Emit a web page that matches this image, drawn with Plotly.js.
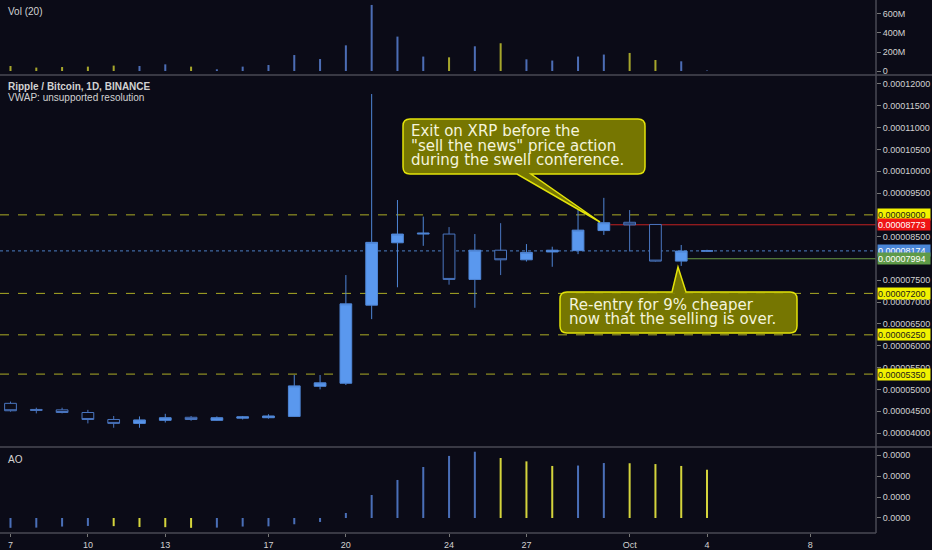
<!DOCTYPE html>
<html><head><meta charset="utf-8">
<script src="https://cdn.plot.ly/plotly-3.0.1.min.js"></script>
<style>html,body{margin:0;padding:0;background:#0b0b17;overflow:hidden}#chart{width:932px;height:550px}</style>
</head><body><div id="chart"></div>
<script>
// ---- data ----
const dates = ['2018-09-07','2018-09-08','2018-09-09','2018-09-10','2018-09-11','2018-09-12','2018-09-13',
  '2018-09-14','2018-09-15','2018-09-16','2018-09-17','2018-09-18','2018-09-19','2018-09-20','2018-09-21',
  '2018-09-22','2018-09-23','2018-09-24','2018-09-25','2018-09-26','2018-09-27','2018-09-28','2018-09-29',
  '2018-09-30','2018-10-01','2018-10-02','2018-10-03','2018-10-04'];
const opens  = [4.68e-5,4.54e-5,4.53e-5,4.47e-5,4.31e-5,4.22e-5,4.29e-5,4.36e-5,4.29e-5,4.34e-5,4.35e-5,4.38e-5,5.07e-5,5.14e-5,6.93e-5,8.36e-5,8.56e-5,8.56e-5,7.52e-5,8.19e-5,7.97e-5,8.15e-5,8.18e-5,8.64e-5,8.83e-5,8.78e-5,7.94e-5,8.17e-5];
const highs  = [4.72e-5,4.58e-5,4.58e-5,4.53e-5,4.39e-5,4.38e-5,4.44e-5,4.39e-5,4.38e-5,4.39e-5,4.43e-5,5.33e-5,5.33e-5,7.62e-5,11.77e-5,9.34e-5,8.96e-5,8.72e-5,8.56e-5,8.81e-5,8.33e-5,8.27e-5,9.11e-5,9.39e-5,9.11e-5,8.79e-5,8.31e-5,8.20e-5];
const lows   = [4.49e-5,4.45e-5,4.45e-5,4.22e-5,4.12e-5,4.12e-5,4.24e-5,4.28e-5,4.28e-5,4.31e-5,4.33e-5,4.37e-5,5.00e-5,5.10e-5,6.61e-5,7.34e-5,8.29e-5,7.40e-5,6.87e-5,7.62e-5,7.93e-5,7.81e-5,8.10e-5,8.54e-5,8.16e-5,7.93e-5,7.83e-5,8.15e-5];
const closes = [4.51e-5,4.52e-5,4.47e-5,4.31e-5,4.22e-5,4.30e-5,4.35e-5,4.31e-5,4.35e-5,4.37e-5,4.39e-5,5.08e-5,5.15e-5,6.96e-5,8.37e-5,8.56e-5,8.58e-5,7.52e-5,8.19e-5,7.97e-5,8.14e-5,8.19e-5,8.65e-5,8.82e-5,8.77e-5,7.94e-5,8.17e-5,8.174e-5];
const volumes = [53e6,36e6,42e6,46e6,57e6,53e6,70e6,46e6,18e6,46e6,63e6,168e6,126e6,270e6,695e6,362e6,152e6,144e6,260e6,292e6,123e6,110e6,152e6,173e6,190e6,116e6,102e6,5e6];
const aoValues = [-0.47e-5,-0.46e-5,-0.41e-5,-0.38e-5,-0.39e-5,-0.43e-5,-0.44e-5,-0.47e-5,-0.46e-5,-0.41e-5,-0.40e-5,-0.30e-5,-0.19e-5,0.24e-5,1.10e-5,1.82e-5,2.44e-5,2.97e-5,3.17e-5,2.87e-5,2.71e-5,2.49e-5,2.51e-5,2.63e-5,2.62e-5,2.58e-5,2.49e-5,2.31e-5];
const tickDates  = ['2018-09-07','2018-09-10','2018-09-13','2018-09-17','2018-09-20','2018-09-24','2018-09-27','2018-10-01','2018-10-04','2018-10-08'];
const tickLabels = ['7','10','13','17','20','24','27','Oct','4','8'];
const priceTicks = [4e-5,4.5e-5,5e-5,5.5e-5,6e-5,6.5e-5,7e-5,7.5e-5,8.5e-5,9.5e-5,10e-5,10.5e-5,11e-5,11.5e-5,12e-5];
const supportLevels = [9.0e-5, 7.2e-5, 6.25e-5, 5.35e-5];
const exitLevel = 8.773e-5, reentryLevel = 7.994e-5, lastPrice = 8.174e-5;
const volTicks = [0, 200e6, 400e6, 600e6], volTickText = ['0','200M','400M','600M'];
const aoTicks = [0, 1e-5, 2e-5, 3e-5];
const exitText = ['Exit on XRP before the', '"sell the news" price action', 'during the swell conference.'];
const reentryText = ['Re-entry for 9% cheaper', 'now that the selling is over.'];

// ---- styling ----
const BG = '#0b0b17';
const UP_FILL = '#5a98ee', UP_LINE = '#4f86d6', DN_LINE = '#4a76c0';
const VOL_UP = 'rgba(80,115,190,0.95)', VOL_DN = 'rgba(175,175,45,0.95)';
const AO_UP = '#4a6fb8', AO_DN = '#d4d43c';
const TXT = '#d2d2d2';
const W = 876, H = 533; // plot area in pixels
const px = (x, y) => [x / W, (H - y) / H];
const barW = 0.078 * 86400000;

const volColors = opens.map((o, i) => closes[i] >= o ? VOL_UP : VOL_DN);
const aoColors = aoValues.map((v, i) => (i === 0 || v >= aoValues[i - 1]) ? AO_UP : AO_DN);

const traces = [
  {type:'bar', x:dates, y:volumes, xaxis:'x', yaxis:'y', width:barW, marker:{color:volColors, line:{width:0}}, hoverinfo:'skip'},
  {type:'candlestick', x:dates, open:opens, high:highs, low:lows, close:closes, xaxis:'x', yaxis:'y2',
   increasing:{line:{color:UP_LINE, width:1}, fillcolor:UP_FILL},
   decreasing:{line:{color:DN_LINE, width:1}, fillcolor:BG}, whiskerwidth:0, hoverinfo:'skip'},
  {type:'bar', x:dates, y:aoValues, xaxis:'x', yaxis:'y3', width:barW, marker:{color:aoColors, line:{width:0}}, hoverinfo:'skip'}
];

const axFont = {family:'Liberation Sans, Arial, sans-serif', size:9, color:TXT};
const yBase = {side:'right', anchor:'x', showgrid:false, zeroline:false, showline:false, ticks:'outside', ticklen:4, tickcolor:'#777', tickfont:axFont, fixedrange:true};

const shapes = [];
supportLevels.forEach(l => shapes.push({type:'line', xref:'paper', x0:0, x1:1, yref:'y2', y0:l, y1:l, layer:'below', line:{color:'rgba(200,200,40,0.85)', width:1, dash:'dash'}}));
shapes.push({type:'line', xref:'paper', x0:0, x1:1, yref:'y2', y0:lastPrice, y1:lastPrice, layer:'below', line:{color:'#4d7fc4', width:1, dash:'dot'}});
shapes.push({type:'line', xref:'x', x0:'2018-09-30 06:00', x1:'2018-10-10 13:12', yref:'y2', y0:exitLevel, y1:exitLevel, layer:'below', line:{color:'#c42222', width:1}});
shapes.push({type:'line', xref:'x', x0:'2018-10-03 05:00', x1:'2018-10-10 13:12', yref:'y2', y0:reentryLevel, y1:reentryLevel, layer:'below', line:{color:'#6a9a44', width:1}});
// panel borders
const border = {color:'#4a4a54', width:1.5};
[[0,75,932,75],[0,447,932,447],[0,533,876,533],[876,0,876,533]].forEach(s => {
  const a = px(s[0], s[1]), b = px(s[2], s[3]);
  shapes.push({type:'line', xref:'paper', yref:'paper', x0:a[0], y0:a[1], x1:b[0], y1:b[1], line:border});
});
// callouts
function roundedPath(L, T, R, B, r, pointer) {
  const P = (x, y) => { const p = px(x, y); return p[0].toFixed(5) + ',' + p[1].toFixed(5); };
  let d = 'M' + P(L + r, T);
  if (pointer && pointer.side === 'top') d += ' L' + P(pointer.b0, T) + ' L' + P(pointer.ax, pointer.ay) + ' L' + P(pointer.b1, T);
  d += ' L' + P(R - r, T) + ' Q' + P(R, T) + ' ' + P(R, T + r);
  d += ' L' + P(R, B - r) + ' Q' + P(R, B) + ' ' + P(R - r, B);
  if (pointer && pointer.side === 'bottom') d += ' L' + P(pointer.b1, B) + ' L' + P(pointer.ax, pointer.ay) + ' L' + P(pointer.b0, B);
  d += ' L' + P(L + r, B) + ' Q' + P(L, B) + ' ' + P(L, B - r);
  d += ' L' + P(L, T + r) + ' Q' + P(L, T) + ' ' + P(L + r, T) + ' Z';
  return d;
}
const calloutStyle = {fillcolor:'rgba(128,128,0,0.92)', line:{color:'#e3e30a', width:1.5}};
shapes.push(Object.assign({type:'path', xref:'paper', yref:'paper', path:roundedPath(403,119,645,174,7,{side:'bottom', b0:517, b1:531, ax:600, ay:222})}, calloutStyle));
shapes.push(Object.assign({type:'path', xref:'paper', yref:'paper', path:roundedPath(560,292,797,333,7,{side:'top', b0:672, b1:686, ax:678, ay:267})}, calloutStyle));

const annotations = [];
function label(text, x, y, font) {
  const p = px(x, y);
  annotations.push({text:text, xref:'paper', yref:'paper', x:p[0], y:p[1], xanchor:'left', yanchor:'middle', showarrow:false, font:font});
}
const hdr = {family:'Liberation Sans, Arial, sans-serif', size:10, color:TXT};
label('Vol (20)', 6, 11, hdr);
label('<b>Ripple / Bitcoin, 1D, BINANCE</b>', 6, 86, hdr);
label('VWAP: unsupported resolution', 6, 98, hdr);
label('AO', 6, 459, hdr);
const cf = {family:'DejaVu Sans, sans-serif', size:15, color:'#f4f4dc'};
exitText.forEach((t, i) => label(t, 409, 131.5 + i * 14, cf));
reentryText.forEach((t, i) => label(t, 567, 305 + i * 14, cf));

// price tags on the right axis
function tag(v, bg, fg) {
  annotations.push({text:v.toFixed(8), xref:'paper', x:1, xanchor:'left', xshift:1, yref:'y2', y:v, yanchor:'middle',
    showarrow:false, bgcolor:bg, borderpad:0, width:52, height:11, align:'left',
    font:{family:'Liberation Sans, Arial, sans-serif', size:9, color:fg}});
}
supportLevels.forEach(l => tag(l, '#f2f200', '#1a1a1a'));
tag(exitLevel, '#ef1515', '#ffffff');
tag(lastPrice, '#4a86d8', '#ffffff');
tag(reentryLevel, '#5f9a48', '#ffffff');

const layout = {
  width:932, height:550, paper_bgcolor:BG, plot_bgcolor:BG, showlegend:false, dragmode:false,
  margin:{l:0, r:56, t:0, b:17}, boxgap:0.35,
  xaxis:{type:'date', anchor:'y3', range:['2018-09-06 14:14','2018-10-10 13:12'], rangeslider:{visible:false},
    tickvals:tickDates, ticktext:tickLabels, ticks:'outside', ticklen:3, tickcolor:'#777', tickfont:axFont,
    showgrid:false, zeroline:false, showline:false, fixedrange:true},
  yaxis:Object.assign({}, yBase, {domain:[(H-75)/H, 1], range:[-42e6, 747e6], tickvals:volTicks, ticktext:volTickText}),
  yaxis2:Object.assign({}, yBase, {domain:[(H-447)/H, (H-76)/H], range:[3.679e-5, 12.183e-5], tickvals:priceTicks, tickformat:'.8f'}),
  yaxis3:Object.assign({}, yBase, {domain:[0, (H-448)/H], range:[-0.718e-5, 3.349e-5], tickvals:aoTicks, tickformat:'.4f'}),
  shapes:shapes, annotations:annotations
};
Plotly.newPlot('chart', traces, layout, {displayModeBar:false, staticPlot:true});
</script></body></html>
